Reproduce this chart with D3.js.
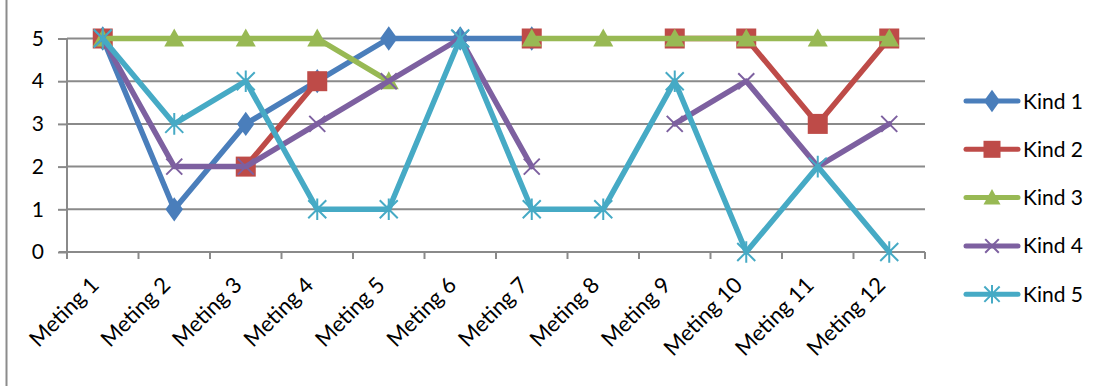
<!DOCTYPE html>
<html>
<head>
<meta charset="utf-8">
<script src="https://cdn.jsdelivr.net/npm/d3@7"></script>
<style>
  html, body { margin: 0; padding: 0; background: #fff; }
  svg { display: block; font-family: Lato, "Open Sans", sans-serif; }
</style>
</head>
<body>
<svg id="chart" width="1106" height="386"></svg>
<script>
// Measurements per child across twelve sessions (null = no score)
const categories = ["Meting 1","Meting 2","Meting 3","Meting 4","Meting 5","Meting 6",
                    "Meting 7","Meting 8","Meting 9","Meting 10","Meting 11","Meting 12"];
const seriesNames = ["Kind 1","Kind 2","Kind 3","Kind 4","Kind 5"];
const kind1 = [5, 1, 3, 4, 5, 5, 5, null, null, null, null, null];
const kind2 = [5, null, 2, 4, null, null, 5, null, 5, 5, 3, 5];
const kind3 = [5, 5, 5, 5, 4, null, 5, 5, 5, 5, 5, 5];
const kind4 = [5, 2, 2, 3, 4, 5, 2, null, 3, 4, 2, 3];
const kind5 = [5, 3, 4, 1, 1, 5, 1, 1, 4, 0, 2, 0];
const yTicks = [0, 1, 2, 3, 4, 5];

const colors = ["#4A7EBB", "#BE4B48", "#98B954", "#7D60A0", "#46AAC5"];
const shapes = ["diamond", "square", "triangle", "cross", "star"];
const allSeries = [kind1, kind2, kind3, kind4, kind5].map((vals, i) => ({
  name: seriesNames[i], values: vals, color: colors[i], shape: shapes[i]
}));

const svg = d3.select("#chart");
const plotLeft = 67, plotRight = 925, plotTop = 38.5, plotBottom = 252;

const x = d3.scaleBand().domain(categories).range([plotLeft, plotRight]);
const y = d3.scaleLinear().domain([0, 5]).range([plotBottom, plotTop]);

// outer chart frame edge
svg.append("line").attr("x1", 6.5).attr("x2", 6.5).attr("y1", 0).attr("y2", 386)
  .attr("stroke", "#8c8c8c").attr("stroke-width", 2);

// horizontal gridlines
svg.append("g").selectAll("line").data(yTicks.filter(d => d > 0)).join("line")
  .attr("x1", plotLeft).attr("x2", plotRight)
  .attr("y1", d => y(d)).attr("y2", d => y(d))
  .attr("stroke", "#8a8a8a").attr("stroke-width", 2);

// y axis
const yAxis = svg.append("g").attr("transform", `translate(${plotLeft},0)`)
  .call(d3.axisLeft(y).tickValues(yTicks).tickFormat(d3.format("d")).tickSize(9).tickPadding(14));
yAxis.select(".domain").attr("stroke", "#8a8a8a").attr("stroke-width", 2)
  .attr("d", `M0,${plotBottom}V${plotTop}`);
yAxis.selectAll(".tick line").attr("stroke", "#8a8a8a").attr("stroke-width", 2);
yAxis.selectAll(".tick text").attr("font-size", 21).attr("fill", "#000")
  .attr("font-family", "Lato, sans-serif");

// x axis with ticks at category boundaries
const xAxisG = svg.append("g").attr("transform", `translate(0,${plotBottom})`);
xAxisG.append("line").attr("x1", plotLeft - 8).attr("x2", plotRight)
  .attr("y1", 0).attr("y2", 0).attr("stroke", "#8a8a8a").attr("stroke-width", 2);
const boundaries = categories.map(c => x(c)).concat([plotRight]);
xAxisG.selectAll("line.tk").data(boundaries).join("line").attr("class", "tk")
  .attr("x1", d => d).attr("x2", d => d).attr("y1", 0).attr("y2", 7)
  .attr("stroke", "#8a8a8a").attr("stroke-width", 2);
xAxisG.selectAll("text").data(categories).join("text")
  .attr("transform", d => `translate(${x(d) + x.bandwidth() / 2 - 8},${29}) rotate(-45)`)
  .attr("text-anchor", "end")
  .attr("dy", "0.35em")
  .attr("font-size", 22)
  .attr("fill", "#000")
  .text(d => d);

// marker symbol generator
function drawMarker(g, shape, color, cx, cy, scale = 1) {
  const s = scale;
  if (shape === "diamond") {
    g.append("path").attr("d", d3.symbol(d3.symbolDiamond, 170 * s)())
      .attr("transform", `translate(${cx},${cy}) scale(1.25,1)`).attr("fill", color);
  } else if (shape === "square") {
    g.append("rect").attr("x", cx - 10 * s).attr("y", cy - 10 * s)
      .attr("width", 20 * s).attr("height", 20 * s).attr("fill", color);
  } else if (shape === "triangle") {
    g.append("path").attr("d", `M${cx},${cy - 10 * s}L${cx + 10 * s},${cy + 8 * s}L${cx - 10 * s},${cy + 8 * s}Z`)
      .attr("fill", color);
  } else if (shape === "cross") {
    const r = 8 * s;
    g.append("path").attr("d", `M${cx - r},${cy - r}L${cx + r},${cy + r}M${cx - r},${cy + r}L${cx + r},${cy - r}`)
      .attr("stroke", color).attr("stroke-width", 2).attr("fill", "none");
  } else if (shape === "star") {
    const r = 9 * s;
    g.append("path").attr("d",
      `M${cx - r},${cy - r}L${cx + r},${cy + r}M${cx - r},${cy + r}L${cx + r},${cy - r}M${cx},${cy - r * 1.2}L${cx},${cy + r * 1.2}`)
      .attr("stroke", color).attr("stroke-width", 2).attr("fill", "none");
  }
}

const line = d3.line()
  .defined(d => d.v !== null)
  .x(d => x(d.c) + x.bandwidth() / 2)
  .y(d => y(d.v));

// series: each line drawn with its markers, in series order
allSeries.forEach(s => {
  const pts = s.values.map((v, i) => ({ c: categories[i], v }));
  const g = svg.append("g");
  g.append("path").datum(pts).attr("d", line)
    .attr("fill", "none").attr("stroke", s.color).attr("stroke-width", 5.5)
    .attr("stroke-linejoin", "round").attr("stroke-linecap", "round");
  pts.filter(p => p.v !== null).forEach(p => {
    drawMarker(g, s.shape, s.color, x(p.c) + x.bandwidth() / 2, y(p.v));
  });
});

// legend
const legend = svg.append("g");
allSeries.forEach((s, i) => {
  const ly = 101 + i * 48.3;
  const g = legend.append("g");
  g.append("line").attr("x1", 966).attr("x2", 1018).attr("y1", ly).attr("y2", ly)
    .attr("stroke", s.color).attr("stroke-width", 5).attr("stroke-linecap", "round");
  drawMarker(g, s.shape, s.color, 992, ly, 0.85);
  g.append("text").attr("x", 1023).attr("y", ly).attr("dy", "0.36em")
    .attr("font-size", 21).attr("fill", "#000").text(s.name);
});
</script>
</body>
</html>
